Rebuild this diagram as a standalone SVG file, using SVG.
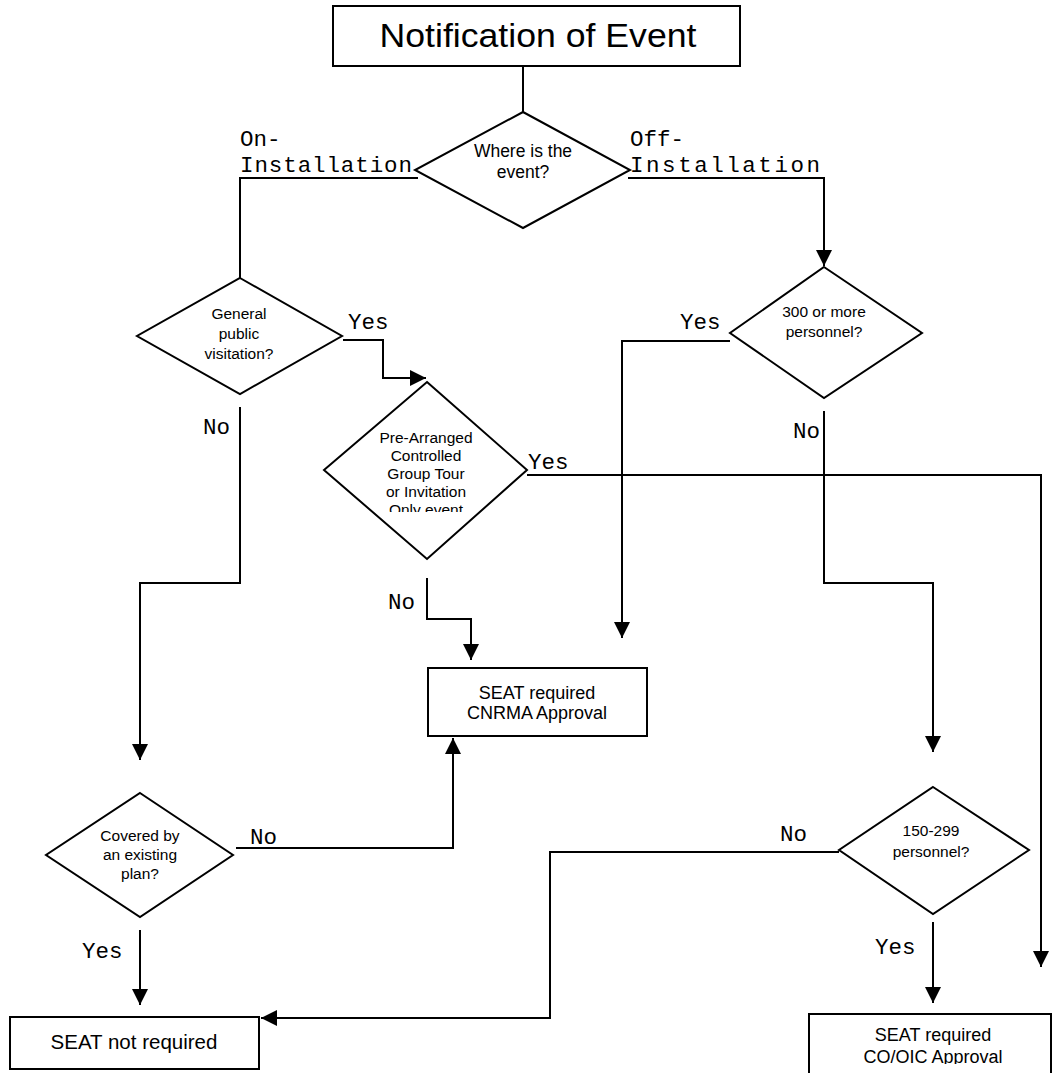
<svg xmlns="http://www.w3.org/2000/svg" width="1052" height="1073" viewBox="0 0 1052 1073">
<defs>
<style>
.shape{fill:#fff;stroke:#000;stroke-width:2}
.conn{fill:none;stroke:#000;stroke-width:2}
.t{font-family:"Liberation Sans",Arial,sans-serif;fill:#000;text-anchor:middle}
.d{font-size:15.5px}
.b{font-size:18px}
.lbl{font-family:"Liberation Mono","Courier New",monospace;font-size:22.5px;fill:#000}
</style>
<marker id="arr" markerUnits="userSpaceOnUse" markerWidth="16" markerHeight="16" viewBox="0 0 10 10" refX="10" refY="5" orient="auto">
<path d="M0,0 L10,5 L0,10 z" fill="#000"/>
</marker>
<clipPath id="clipPre"><rect x="300" y="370" width="260" height="142"/></clipPath>
<clipPath id="clipCo"><rect x="800" y="1000" width="260" height="64"/></clipPath>
</defs>
<g id="connectors">
<path class="conn" d="M523,66 L523,112"/>
<path class="conn" d="M418,178 L240,178 L240,278"/>
<path class="conn" d="M628,178 L824,178 L824,266" marker-end="url(#arr)"/>
<path class="conn" d="M343,340 L383,340 L383,378 L426,378" marker-end="url(#arr)"/>
<path class="conn" d="M240,407 L240,583 L140,583 L140,760" marker-end="url(#arr)"/>
<path class="conn" d="M427,578 L427,619 L471,619 L471,660" marker-end="url(#arr)"/>
<path class="conn" d="M730,341 L622,341 L622,638" marker-end="url(#arr)"/>
<path class="conn" d="M824,411 L824,583 L933,583 L933,752" marker-end="url(#arr)"/>
<path class="conn" d="M527,475 L1041,475 L1041,967" marker-end="url(#arr)"/>
<path class="conn" d="M236,848 L453,848 L453,738" marker-end="url(#arr)"/>
<path class="conn" d="M140,930 L140,1005" marker-end="url(#arr)"/>
<path class="conn" d="M839,852 L550,852 L550,1018 L261,1018" marker-end="url(#arr)"/>
<path class="conn" d="M933,922 L933,1003" marker-end="url(#arr)"/>
<text class="lbl" x="240" y="146">On-</text>
<text class="lbl" x="240" y="172" textLength="172" lengthAdjust="spacing">Installation</text>
<text class="lbl" x="630" y="146">Off-</text>
<text class="lbl" x="630" y="172" textLength="190" lengthAdjust="spacing">Installation</text>
<text class="lbl" x="348" y="329">Yes</text>
<text class="lbl" x="203" y="434">No</text>
<text class="lbl" x="528" y="469">Yes</text>
<text class="lbl" x="388" y="609">No</text>
<text class="lbl" x="680" y="329">Yes</text>
<text class="lbl" x="793" y="438">No</text>
<text class="lbl" x="250" y="844">No</text>
<text class="lbl" x="82" y="958">Yes</text>
<text class="lbl" x="780" y="841">No</text>
<text class="lbl" x="875" y="954">Yes</text>
</g>
<g id="notification">
<rect class="shape" x="333" y="6" width="407" height="60"/>
<text class="t" x="538" y="47" font-size="33" textLength="317" lengthAdjust="spacingAndGlyphs">Notification of Event</text>
</g>
<g id="where">
<polygon class="shape" points="523,112 630,170 523,228 415,170"/>
<text class="t" x="523" y="157" font-size="17.5">Where is the</text>
<text class="t" x="523" y="178" font-size="17.5">event?</text>
</g>
<g id="general">
<polygon class="shape" points="240,278 342,336 240,394 137,336"/>
<text class="t d" x="239" y="319">General</text>
<text class="t d" x="239" y="339">public</text>
<text class="t d" x="239" y="359">visitation?</text>
</g>
<g id="prearranged">
<polygon class="shape" points="427,382 527,470 427,559 324,470"/>
<g clip-path="url(#clipPre)">
<text class="t d" x="426" y="443">Pre-Arranged</text>
<text class="t d" x="426" y="461">Controlled</text>
<text class="t d" x="426" y="479">Group Tour</text>
<text class="t d" x="426" y="497">or Invitation</text>
<text class="t d" x="426" y="515">Only event</text>
</g>
</g>
<g id="threehundred">
<polygon class="shape" points="824,267 922,333 824,398 730,333"/>
<text class="t d" x="824" y="317">300 or more</text>
<text class="t d" x="824" y="337">personnel?</text>
</g>
<g id="cnrma">
<rect class="shape" x="428" y="668" width="219" height="68"/>
<text class="t b" x="537" y="699">SEAT required</text>
<text class="t b" x="537" y="719">CNRMA Approval</text>
</g>
<g id="covered">
<polygon class="shape" points="140,793 233,855 140,917 46,855"/>
<text class="t d" x="140" y="841">Covered by</text>
<text class="t d" x="140" y="860">an existing</text>
<text class="t d" x="140" y="879">plan?</text>
</g>
<g id="onefifty">
<polygon class="shape" points="933,787 1029,850 933,914 839,850"/>
<text class="t d" x="931" y="836">150-299</text>
<text class="t d" x="931" y="857">personnel?</text>
</g>
<g id="notrequired">
<rect class="shape" x="10" y="1017" width="249" height="52"/>
<text class="t" x="134" y="1049" font-size="20.5">SEAT not required</text>
</g>
<g id="cooic">
<rect class="shape" x="809" y="1014" width="242" height="80"/>
<g clip-path="url(#clipCo)">
<text class="t b" x="933" y="1041">SEAT required</text>
<text class="t b" x="933" y="1063">CO/OIC Approval</text>
</g>
</g>
</svg>
